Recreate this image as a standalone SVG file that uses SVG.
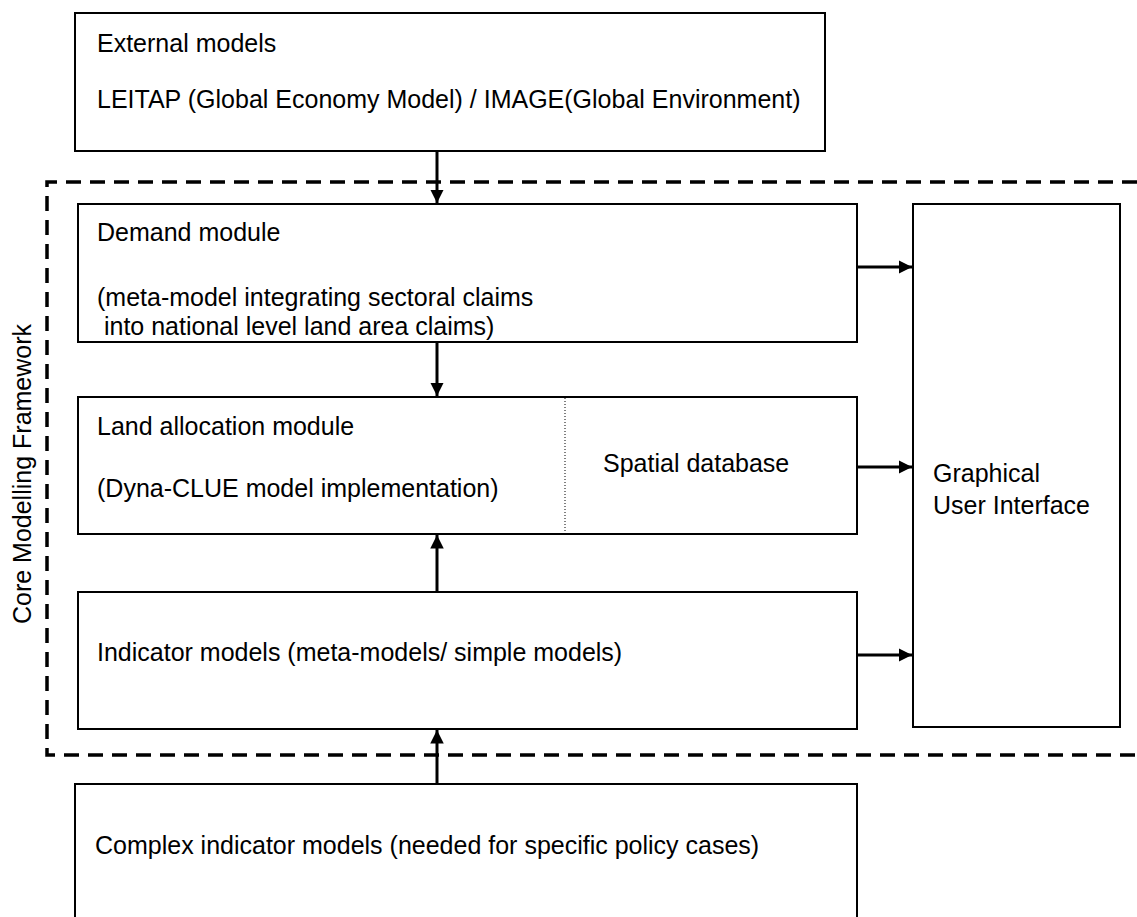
<svg xmlns="http://www.w3.org/2000/svg" width="1137" height="917" viewBox="0 0 1137 917">
<style>
.box{fill:#fff;stroke:#000;stroke-width:2}
.t{font-family:"Liberation Sans",Arial,sans-serif;font-size:25px;fill:#000}
.con{stroke:#000;stroke-width:3;fill:none}
.dash{stroke:#000;stroke-width:3.5;fill:none;stroke-dasharray:15 9}
</style>
<defs>
<marker id="ah" viewBox="0 0 10 10" refX="10" refY="5" markerWidth="4.5" markerHeight="4.5" orient="auto" markerUnits="strokeWidth">
<path d="M0,0 L10,5 L0,10 z" fill="#000"/>
</marker>
</defs>
<g id="framework">
<path class="dash" d="M1137,182 H47 V755 H1137"/>
<text class="t" transform="translate(31,474) rotate(-90)" text-anchor="middle">Core Modelling Framework</text>
</g>
<g id="external">
<rect class="box" x="75" y="13" width="750" height="138"/>
<text class="t" x="97" y="52">External models</text>
<text class="t" x="97" y="108">LEITAP (Global Economy Model) / IMAGE(Global Environment)</text>
</g>
<g id="demand">
<rect class="box" x="78" y="204" width="779" height="138"/>
<text class="t" x="97" y="241">Demand module</text>
<text class="t" x="97" y="306">(meta-model integrating sectoral claims</text>
<text class="t" x="97" y="335" xml:space="preserve"> into national level land area claims)</text>
</g>
<g id="landalloc">
<rect class="box" x="78" y="397" width="779" height="137"/>
<line x1="565" y1="398" x2="565" y2="533" stroke="#000" stroke-width="1" stroke-dasharray="1 2"/>
<text class="t" x="97" y="435">Land allocation module</text>
<text class="t" x="97" y="497">(Dyna-CLUE model implementation)</text>
<text class="t" x="603" y="472">Spatial database</text>
</g>
<g id="indicator">
<rect class="box" x="78" y="592" width="779" height="137"/>
<text class="t" x="97" y="661">Indicator models (meta-models/ simple models)</text>
</g>
<g id="gui">
<rect class="box" x="913" y="204" width="207" height="523"/>
<text class="t" x="933" y="482">Graphical</text>
<text class="t" x="933" y="514">User Interface</text>
</g>
<g id="complex">
<rect class="box" x="75" y="784" width="782" height="150"/>
<text class="t" x="95" y="854">Complex indicator models (needed for specific policy cases)</text>
</g>
<g id="connectors">
<line class="con" x1="437" y1="151" x2="437" y2="203" marker-end="url(#ah)"/>
<line class="con" x1="437" y1="342" x2="437" y2="396" marker-end="url(#ah)"/>
<line class="con" x1="437" y1="592" x2="437" y2="535" marker-end="url(#ah)"/>
<line class="con" x1="437" y1="784" x2="437" y2="730" marker-end="url(#ah)"/>
<line class="con" x1="857" y1="267" x2="912" y2="267" marker-end="url(#ah)"/>
<line class="con" x1="857" y1="467" x2="912" y2="467" marker-end="url(#ah)"/>
<line class="con" x1="857" y1="655" x2="912" y2="655" marker-end="url(#ah)"/>
</g>
</svg>
